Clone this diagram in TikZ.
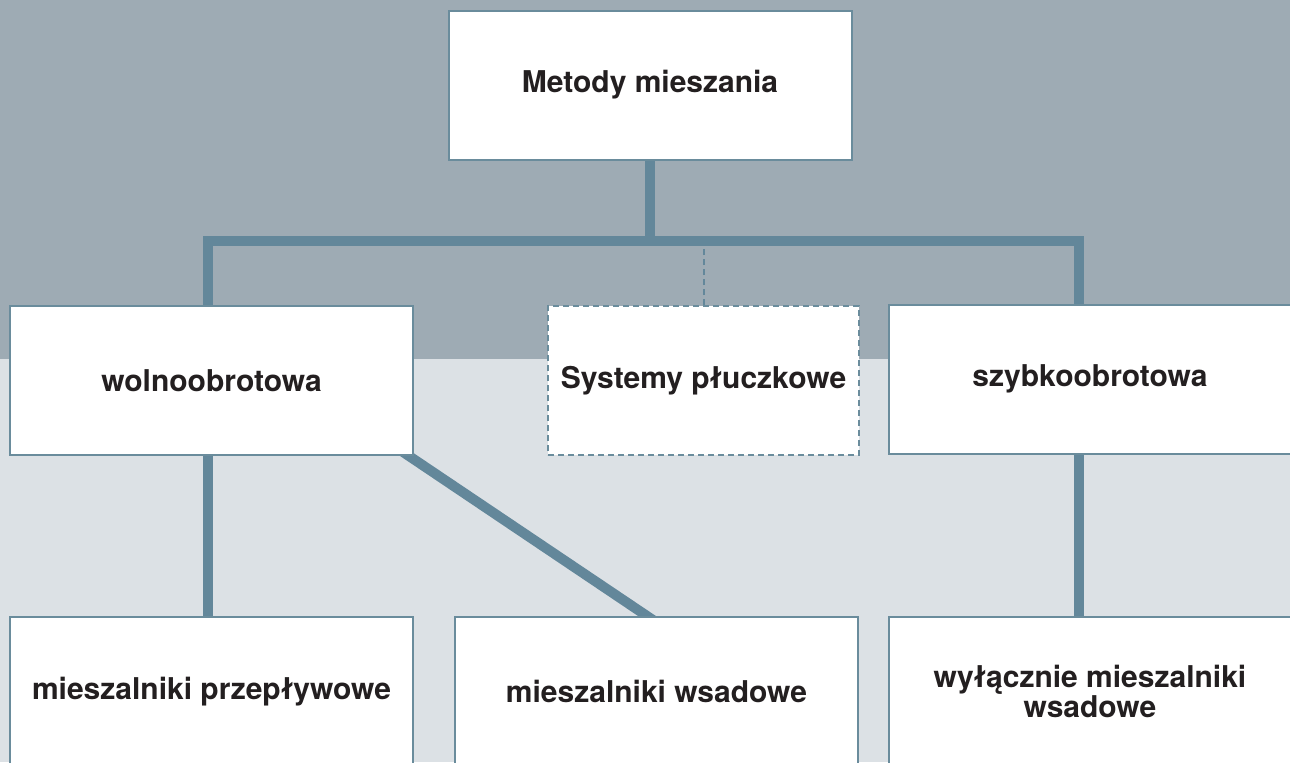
\documentclass[tikz,border=0pt]{standalone}
\usepackage{fontspec}
\setmainfont{TeX Gyre Heros}
\usepackage{xcolor}
\usetikzlibrary{positioning,calc,backgrounds}
\definecolor{bgdark}{HTML}{9EABB4}
\definecolor{bglight}{HTML}{DCE1E5}
\definecolor{wire}{HTML}{63879A}
\definecolor{frame}{HTML}{6A8C9C}
\definecolor{ink}{HTML}{231F20}

\begin{document}
\begin{tikzpicture}[
    x=0.5pt, y=-0.5pt,
    box/.style={rectangle, draw=frame, line width=1pt, fill=white, align=center, text=ink,
        minimum width=201.5pt, minimum height=74.5pt,
        font=\fontsize{15}{13.5}\selectfont\bfseries},
    optbox/.style={box, dash pattern=on 3pt off 2pt},
    link/.style={draw=wire, line width=5pt},
    optlink/.style={draw=wire, line width=1pt, dash pattern=on 3pt off 2pt}
]
\clip (0,0) rectangle (1290,762);
\begin{scope}[on background layer]
\fill[bgdark] (0,0) rectangle (1290,359);
\fill[bglight] (0,359) rectangle (1290,762);
\end{scope}

\node[box] (methods) at (650,85) {Metody mieszania};
\node[box] (slow) at (211.5,380.5) {wolnoobrotowa};
\node[optbox, minimum width=155.5pt] (rinse) at (703.5,380.5) {Systemy płuczkowe};
\node[box] (fast) at (1090,379) {szybkoobrotowa};
\node[box] (flow) at (211.5,691.5) {mieszalniki przepływowe};
\node[box] (batch) at (656.5,691.5) {mieszalniki wsadowe};
\node[box] (batchonly) at (1090,691.5) {wyłącznie mieszalniki\\wsadowe};

\coordinate (bar) at (650,241);
\coordinate (diagtop) at ([xshift=-2.5pt]slow.south east);
\coordinate (diagend) at ([xshift=-4.75pt]batch.north);
\begin{scope}[on background layer]
\draw[link] (methods) -- (bar);
\draw[link] ([xshift=-1.75pt]slow.center) |- (bar) -| ([xshift=-5.5pt]fast.center);
\draw[optlink] (rinse.north) -- (rinse.north |- bar);
\draw[link] ([xshift=-1.75pt]slow.center) -- ([xshift=-1.75pt]flow.center);
\draw[link] ($(diagtop)!-0.06!(diagend)$) -- ($(diagend)!-0.06!(diagtop)$);
\draw[link] ([xshift=-5.5pt]fast.center) -- ([xshift=-5.5pt]batchonly.center);
\end{scope}
\end{tikzpicture}
\end{document}
